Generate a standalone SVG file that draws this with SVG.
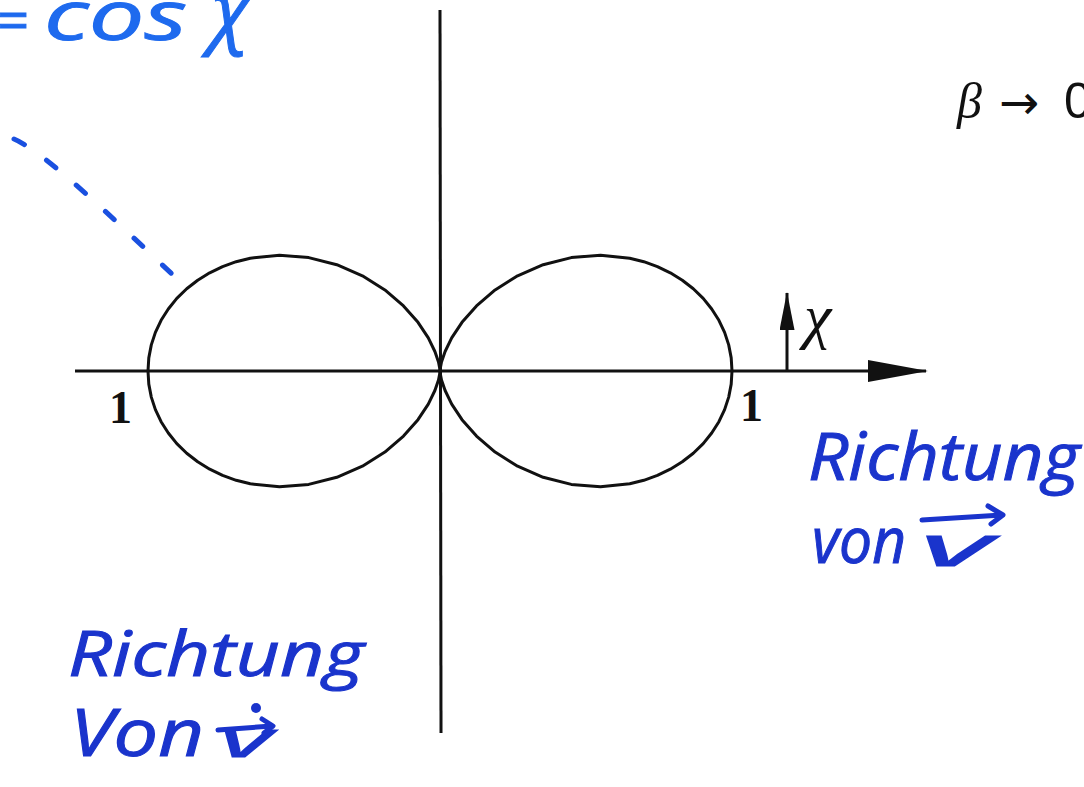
<svg xmlns="http://www.w3.org/2000/svg" xmlns:xlink="http://www.w3.org/1999/xlink" width="1084" height="787" viewBox="0 0 1084 787">
<style>
.ax{stroke:#111;stroke-width:3;fill:none}
.lobe{stroke:#111;stroke-width:3;fill:none;stroke-linejoin:round}
.num{font-family:"Liberation Serif",serif;fill:#111}
.hw{font-family:"Open Sans","Noto Sans",sans-serif;font-style:italic;fill:#1a34cc;stroke:#1a34cc;stroke-width:1}
.hw2{font-family:"Open Sans","Noto Sans",sans-serif;font-style:italic;fill:#1e6aee;stroke:#1e6aee;stroke-width:1}
.pen{stroke:#1a34cc;stroke-width:5;fill:none;stroke-linecap:round;stroke-linejoin:round}
</style>
<defs>
<marker id="bigHead" markerUnits="userSpaceOnUse" viewBox="0 0 60 22" markerWidth="60" markerHeight="22" refX="58" refY="11" orient="auto"><path d="M0,0 L60,11 L0,22 Z" fill="#111"/></marker>
<marker id="smallHead" markerUnits="userSpaceOnUse" viewBox="0 0 38 15" markerWidth="38" markerHeight="15" refX="37" refY="7.5" orient="auto"><path d="M0,0 L38,7.5 L0,15 Z" fill="#111"/></marker>
<path id="lobePath" d="M0,0 L0.2,-2.3 L1.5,-9 L5.1,-19.5 L11.7,-33.1 L22,-48.7 L36.5,-65.1 L55.1,-81.1 L77.6,-95.2 L103.2,-106.3 L131.3,-113.4 L160.5,-115.8 L189.7,-112.8 L203.8,-109.3 L217.4,-104.4 L230.3,-98.2 L242.3,-90.8 L253.3,-82.3 L263.2,-72.6 L271.7,-62 L278.9,-50.7 L284.6,-38.6 L288.7,-26.1 L291.2,-13.1 L292,0 L291.2,13.1 L288.7,26.1 L284.6,38.6 L278.9,50.7 L271.7,62 L263.2,72.6 L253.3,82.3 L242.3,90.8 L230.3,98.2 L217.4,104.4 L203.8,109.3 L189.7,112.8 L160.5,115.8 L131.3,113.4 L103.2,106.3 L77.6,95.2 L55.1,81.1 L36.5,65.1 L22,48.7 L11.7,33.1 L5.1,19.5 L1.5,9 L0.2,2.3 Z"/>
</defs>
<rect width="1084" height="787" fill="#fff"/>

<g id="axes">
<line class="ax" x1="440" y1="10" x2="441" y2="733"/>
<line class="ax" x1="75" y1="371" x2="926" y2="371" marker-end="url(#bigHead)"/>
<line class="ax" x1="787" y1="371" x2="787" y2="293" stroke-width="2.6" marker-end="url(#smallHead)"/>
</g>

<g id="lobes">
<use xlink:href="#lobePath" class="lobe" transform="translate(440,371)"/>
<use xlink:href="#lobePath" class="lobe" transform="translate(440,371) scale(-1,1)"/>
</g>

<g id="labels">
<text class="num" x="109" y="423" font-size="46" font-weight="bold">1</text>
<text class="num" x="740" y="421" font-size="46" font-weight="bold">1</text>
<text class="num" x="804" y="337" font-size="62" font-style="italic">χ</text>
<text class="num" x="957" y="118" font-size="50" font-style="italic">β</text>
<text x="999" y="119" font-size="48" font-family="'DejaVu Sans',sans-serif" fill="#111">→</text>
<text x="1064" y="118" font-size="50" font-family="'Liberation Sans',sans-serif" fill="#111">0</text>
</g>

<g id="annot-top">
<text class="hw2" x="-4" y="40" font-size="56">=</text>
<text class="hw2" x="44" y="40" font-size="70" textLength="143" lengthAdjust="spacingAndGlyphs">cos</text>
<text class="hw2" x="210" y="38" font-size="80">χ</text>
<path d="M14,139 C45,152 120,225 173,275" fill="none" stroke="#1a50e0" stroke-width="5" stroke-linecap="round" stroke-dasharray="12 27"/>
</g>

<g id="annot-right">
<text class="hw" x="808" y="480" font-size="66" textLength="272" lengthAdjust="spacingAndGlyphs">Richtung</text>
<text class="hw" x="812" y="563" font-size="64" textLength="94" lengthAdjust="spacingAndGlyphs">von</text>
<text class="hw" x="920" y="566" font-size="56" textLength="72" lengthAdjust="spacingAndGlyphs">v</text>
<path class="pen" d="M922,520 L1002,515 M988,506 L1003,515 L991,524"/>
</g>

<g id="annot-left">
<text class="hw" x="68" y="676" font-size="62" textLength="296" lengthAdjust="spacingAndGlyphs">Richtung</text>
<text class="hw" x="70" y="756" font-size="66" textLength="134" lengthAdjust="spacingAndGlyphs">Von</text>
<text class="hw" x="220" y="757" font-size="52" textLength="52" lengthAdjust="spacingAndGlyphs">v</text>
<path class="pen" d="M218,730 L272,726 M262,719 L273,726 L264,733"/>
<circle cx="256" cy="708" r="5" fill="#1a34cc"/>
</g>
</svg>
